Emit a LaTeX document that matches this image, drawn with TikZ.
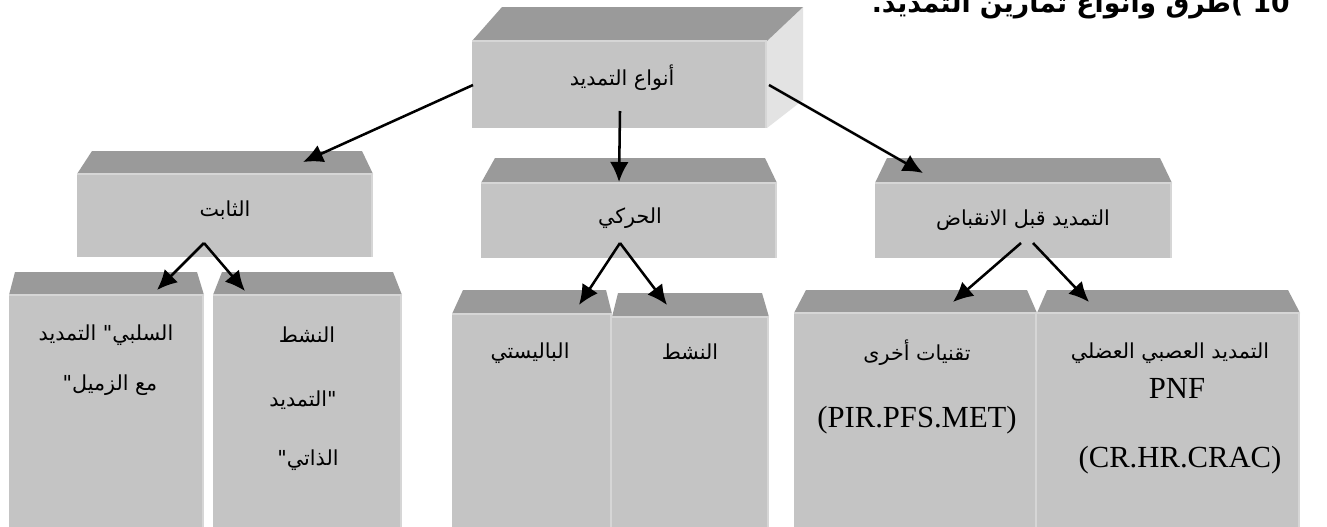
\documentclass[tikz,border=0pt]{standalone}
\usepackage{fontspec}
\setmainfont{Liberation Serif}
\newfontfamily\arabicfont[Script=Arabic]{DejaVu Sans}
\TeXXeTstate=1
\usetikzlibrary{arrows.meta}
\definecolor{topgray}{HTML}{9A9A9A}
\definecolor{frontgray}{HTML}{C4C4C4}
\definecolor{sidegray}{HTML}{E3E3E3}
\definecolor{edgegray}{HTML}{D6D6D6}
\newcommand\artxt[1]{\beginR #1\endR}
% front x1, front x2, back x1, back x2, y back, y front, y bottom
\newcommand\cuboid[7]{%
  \fill[topgray] (#3,#5) -- (#4,#5) -- (#2,#6) -- (#1,#6) -- cycle;
  \fill[frontgray] (#1,#6) rectangle (#2,#7);
  \draw[edgegray, line width=1pt] (#1,#6) -- (#2,#6);
  \draw[edgegray, line width=1.5pt] (#2-1,#6) -- (#2-1,#7);
}
\begin{document}
\begin{tikzpicture}[x=0.75pt,y=-0.75pt,
  conn/.style={line width=1.9pt,-{Latex[length=15pt,width=14pt]}},
  lbl/.style={inner sep=0pt,font=\arabicfont\fontsize{15.5}{17}\selectfont},
  lat/.style={inner sep=0pt,font=\fontsize{23}{25}\selectfont},
  ttl/.style={inner sep=0pt,font=\arabicfont\bfseries\fontsize{20}{22}\selectfont}]
\useasboundingbox (0,0) rectangle (1327,526);
\clip (0,0) rectangle (1327,526);
\fill[white] (0,0) rectangle (1327,526);

% title
\node[ttl, anchor=base east] (title) at (1290,12) {\artxt{طرق وأنواع تمارين التمديد.})\ 10};

% top box
\fill[sidegray] (767,41) -- (803,7) -- (803,100) -- (767,128) -- cycle;
\cuboid{472}{767}{502}{803}{7}{41}{128}
\node[lbl] (n0) at (622,78) {\artxt{أنواع التمديد}};

% second level
\cuboid{77}{373}{92}{362}{151}{174}{257}
\cuboid{481}{777}{495}{765}{158}{183}{258}
\cuboid{875}{1172}{887}{1160}{158}{183}{258}
\node[lbl] (s1) at (225,210) {\artxt{الثابت}};
\node[lbl] (s2) at (630,218) {\artxt{الحركي}};
\node[lbl] (s3) at (1023,220) {\artxt{التمديد قبل الانقباض}};

% third level
\cuboid{9}{204}{15}{197}{272}{295}{527}
\cuboid{213}{402}{222}{393}{272}{295}{527}
\cuboid{452}{612}{463}{606}{290}{314}{527}
\cuboid{612}{769}{618}{762}{293}{317}{527}
\cuboid{794}{1037}{806}{1027}{290}{313}{527}
\cuboid{1037}{1300}{1047}{1288}{290}{313}{527}

\node[lbl] (t1a) at (106,335) {\artxt{السلبي" التمديد}};
\node[lbl] (t1b) at (110,385) {\artxt{مع الزميل"}};
\node[lbl] (t2a) at (307,335) {\artxt{النشط}};
\node[lbl] (t2b) at (303,400) {\artxt{"التمديد}};
\node[lbl] (t2c) at (308,460) {\artxt{الذاتي"}};
\node[lbl] (t3) at (530,353) {\artxt{الباليستي}};
\node[lbl] (t4) at (690,352) {\artxt{النشط}};
\node[lbl] (t5a) at (917,353) {\artxt{تقنيات أخرى}};
\node[lat] (t5b) at (917,420) {(PIR.PFS.MET)};
\node[lbl] (t6a) at (1170,353) {\artxt{التمديد العصبي العضلي}};
\node[lat] (t6b) at (1177,388) {PNF};
\node[lat] (t6c) at (1180,460) {(CR.HR.CRAC)};

% connector points
\coordinate (topL) at (473,85);
\coordinate (topM) at (620,111);
\coordinate (topR) at (769,85);
\coordinate (s1tip) at (303,162);
\coordinate (s2tip) at (619,182);
\coordinate (s3tip) at (923,173);
\coordinate (a1) at (204,243);
\coordinate (b1tip) at (157,290);
\coordinate (b2tip) at (245,291);
\coordinate (a2) at (620,243);
\coordinate (b3tip) at (579,305);
\coordinate (b4tip) at (667,305);
\coordinate (a3L) at (1021,243);
\coordinate (a3R) at (1033,243);
\coordinate (b5tip) at (953,302);
\coordinate (b6tip) at (1089,302);

\draw[conn] (topL) -- (s1tip);
\draw[conn] (topM) -- (s2tip);
\draw[conn] (topR) -- (s3tip);
\draw[conn] (a1) -- (b1tip);
\draw[conn] (a1) -- (b2tip);
\draw[conn] (a2) -- (b3tip);
\draw[conn] (a2) -- (b4tip);
\draw[conn] (a3L) -- (b5tip);
\draw[conn] (a3R) -- (b6tip);
\end{tikzpicture}
\end{document}
